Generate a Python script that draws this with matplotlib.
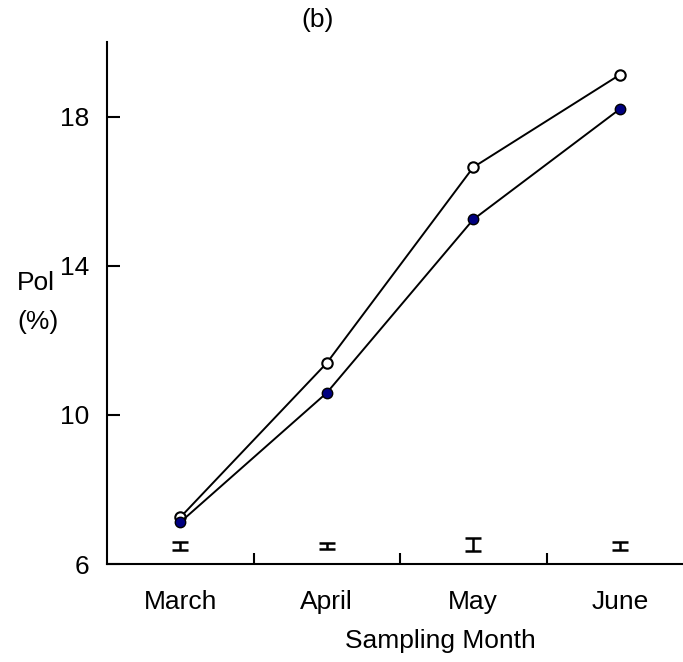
import matplotlib
matplotlib.use("Agg")
import matplotlib.pyplot as plt
import numpy as np

plt.rcParams['font.family'] = ['Liberation Sans', 'DejaVu Sans']

months = ["March", "April", "May", "June"]
pol_open = [7.25, 11.39, 16.64, 19.12]
pol_filled = [7.12, 10.59, 15.24, 18.20]
err_center = [6.48, 6.48, 6.52, 6.48]
err_half = [0.11, 0.09, 0.17, 0.11]
yticks = [6, 10, 14, 18]

FS = 19

fig = plt.figure(figsize=(6.83, 6.62), dpi=100)
ax = fig.add_axes([107/683, 98/662, 586/683, 522/662])

x = np.arange(len(months)) + 0.5
ax.plot(x, pol_open, color='black', lw=1.4, marker='o', ms=7.5,
        mfc='white', mec='black', mew=1.5, zorder=3)
ax.plot(x, pol_filled, color='black', lw=1.4, marker='o', ms=7.5,
        mfc='#000080', mec='black', mew=1.0, zorder=3)
ax.errorbar(x, err_center, yerr=err_half, fmt='none', ecolor='black',
            elinewidth=1.8, capsize=5.5, capthick=1.8)

ax.set_xlim(0, 4)
ax.set_ylim(6, 20)
ax.set_xticks(x)
ax.set_xticklabels(months)
ax.set_xticks([1, 2, 3], minor=True)
ax.set_yticks(yticks)
ax.tick_params(axis='x', which='major', length=0, pad=19, labelsize=FS)
ax.tick_params(axis='x', which='minor', direction='in', length=8, width=1.5)
ax.tick_params(axis='y', direction='in', length=9, width=1.5, pad=13, labelsize=FS)

for s in ['top', 'right']:
    ax.spines[s].set_visible(False)
for s in ['left', 'bottom']:
    ax.spines[s].set_linewidth(1.5)

fig.text(318/683, 1 - 20/662, "(b)", ha='center', va='center', fontsize=FS)
fig.text(17/683, 1 - 283/662, "Pol", ha='left', va='center', fontsize=FS)
fig.text(17/683, 1 - 322/662, "(%)", ha='left', va='center', fontsize=FS)
fig.text(440/683, 1 - 641/662, "Sampling Month", ha='center', va='center', fontsize=FS)

fig.savefig("out.png", dpi=100)
